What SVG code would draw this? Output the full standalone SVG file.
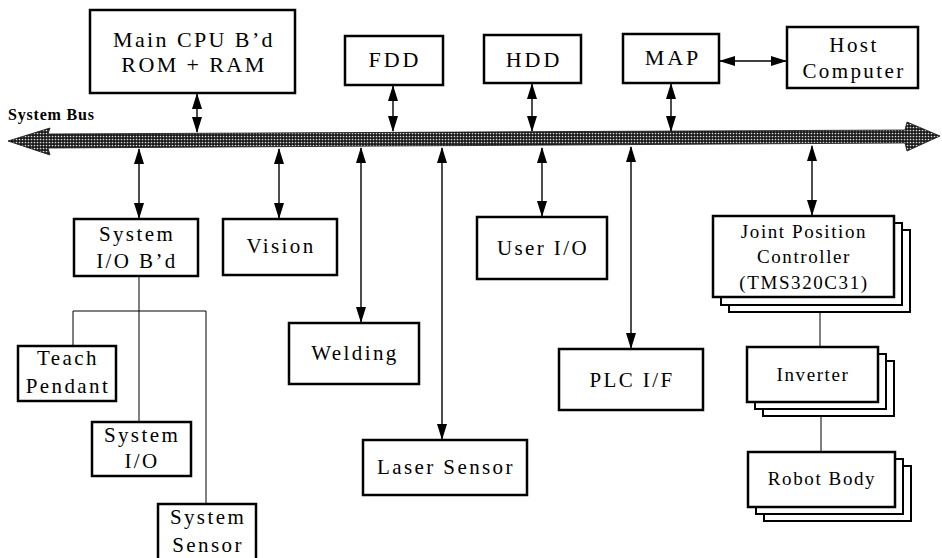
<svg xmlns="http://www.w3.org/2000/svg" width="942" height="558" viewBox="0 0 942 558">
<defs>
<style>
.box{fill:#fff;stroke:#000;stroke-width:2.5}
text{font-family:"Times New Roman",Times,"Liberation Serif",Tinos,"DejaVu Serif",serif}
.t{font-size:21px;letter-spacing:2.4px;fill:#000;text-anchor:middle}
.s{font-size:19px;letter-spacing:1.6px}
.bus{font-size:16px;font-weight:bold;letter-spacing:0.8px;fill:#000}
.arr{stroke:#000;stroke-width:1.4;fill:none;marker-start:url(#ah);marker-end:url(#ah)}
.ln{stroke:#000;stroke-width:1;fill:none}
</style>
<marker id="ah" markerUnits="userSpaceOnUse" markerWidth="16" markerHeight="12" viewBox="0 0 16 12" refX="15" refY="6" orient="auto-start-reverse">
<path d="M0,1 L16,6 L0,11 Z" fill="#000"/>
</marker>
<pattern id="hatch" width="3" height="3" patternUnits="userSpaceOnUse">
<rect width="3" height="3" fill="#1a1a1a"/>
<circle cx="1.5" cy="1.5" r="0.85" fill="#ddd"/>
</pattern>
</defs>
<rect width="942" height="558" fill="#fff"/>

<g id="system-bus">
<polygon points="8,141 50,128 48,134 905,130 907,122 940,136 907,151 905,143 48,148 50,155" fill="url(#hatch)" stroke="#111" stroke-width="0.8"/>
<text class="bus" x="8" y="120">System Bus</text>
</g>

<g id="connectors">
<line class="arr" x1="197" y1="94" x2="197" y2="132"/>
<line class="arr" x1="393" y1="86" x2="393" y2="131"/>
<line class="arr" x1="532" y1="84" x2="532" y2="131"/>
<line class="arr" x1="671" y1="84" x2="671" y2="131"/>
<line class="arr" x1="720" y1="61" x2="786" y2="61"/>
<line class="arr" x1="139" y1="149" x2="139" y2="218"/>
<line class="arr" x1="279" y1="149" x2="279" y2="218"/>
<line class="arr" x1="361" y1="148" x2="361" y2="322"/>
<line class="arr" x1="442" y1="148" x2="442" y2="439"/>
<line class="arr" x1="542" y1="148" x2="542" y2="216"/>
<line class="arr" x1="631" y1="147" x2="631" y2="348"/>
<line class="arr" x1="812" y1="146" x2="812" y2="215"/>
<line class="ln" x1="820" y1="312" x2="820" y2="347"/>
<line class="ln" x1="821" y1="416" x2="821" y2="452"/>
<line class="ln" x1="139" y1="276" x2="139" y2="422"/>
<path class="ln" d="M73,346 V311 H206 V504"/>
</g>

<g id="main-cpu">
<rect class="box" x="90" y="10" width="205" height="83"/>
<text class="t" x="194" y="47" style="font-size:22px">Main CPU B’d</text>
<text class="t" x="194" y="72" style="font-size:22px">ROM + RAM</text>
</g>
<g id="fdd">
<rect class="box" x="345" y="36" width="98" height="49"/>
<text class="t" x="395" y="67" style="font-size:22px;letter-spacing:3px">FDD</text>
</g>
<g id="hdd">
<rect class="box" x="484" y="35" width="97" height="48"/>
<text class="t" x="534" y="67" style="font-size:22px;letter-spacing:3px">HDD</text>
</g>
<g id="map">
<rect class="box" x="623" y="34" width="96" height="49"/>
<text class="t" x="673" y="65" style="font-size:22px;letter-spacing:3px">MAP</text>
</g>
<g id="host-computer">
<rect class="box" x="787" y="27" width="131" height="61"/>
<text class="t" x="854" y="52">Host</text>
<text class="t" x="854" y="78">Computer</text>
</g>

<g id="system-io-bd">
<rect class="box" x="74" y="219" width="124" height="57"/>
<text class="t" x="137" y="241">System</text>
<text class="t" x="137" y="268">I/O  B’d</text>
</g>
<g id="vision">
<rect class="box" x="223" y="219" width="114" height="56"/>
<text class="t" x="281" y="253">Vision</text>
</g>
<g id="welding">
<rect class="box" x="289" y="323" width="130" height="61"/>
<text class="t" x="355" y="360">Welding</text>
</g>
<g id="laser-sensor">
<rect class="box" x="363" y="440" width="164" height="55"/>
<text class="t" x="446" y="474">Laser Sensor</text>
</g>
<g id="user-io">
<rect class="box" x="477" y="217" width="130" height="62"/>
<text class="t" x="543" y="255">User I/O</text>
</g>
<g id="plc-if">
<rect class="box" x="559" y="349" width="144" height="61"/>
<text class="t" x="632" y="387">PLC I/F</text>
</g>

<g id="joint-position-controller">
<rect class="box" x="729" y="230" width="181" height="82" style="stroke-width:2"/>
<rect class="box" x="721" y="223" width="181" height="82" style="stroke-width:2"/>
<rect class="box" x="713" y="216" width="181" height="81"/>
<text class="t s" x="804" y="238">Joint Position</text>
<text class="t s" x="804" y="263">Controller</text>
<text class="t s" x="804" y="289">(TMS320C31)</text>
</g>
<g id="inverter">
<rect class="box" x="763" y="361" width="131" height="55" style="stroke-width:2"/>
<rect class="box" x="755" y="354" width="131" height="55" style="stroke-width:2"/>
<rect class="box" x="747" y="347" width="131" height="55"/>
<text class="t s" x="813" y="381">Inverter</text>
</g>
<g id="robot-body">
<rect class="box" x="764" y="466" width="147" height="55" style="stroke-width:2"/>
<rect class="box" x="756" y="459" width="147" height="55" style="stroke-width:2"/>
<rect class="box" x="748" y="452" width="147" height="55"/>
<text class="t s" x="822" y="485">Robot Body</text>
</g>

<g id="teach-pendant">
<rect class="box" x="18" y="346" width="98" height="55"/>
<text class="t" x="68" y="365">Teach</text>
<text class="t" x="68" y="393">Pendant</text>
</g>
<g id="system-io">
<rect class="box" x="92" y="422" width="99" height="54"/>
<text class="t" x="142" y="442">System</text>
<text class="t" x="142" y="468">I/O</text>
</g>
<g id="system-sensor">
<rect class="box" x="158" y="504" width="98" height="58"/>
<text class="t" x="208" y="524">System</text>
<text class="t" x="208" y="552">Sensor</text>
</g>
</svg>
